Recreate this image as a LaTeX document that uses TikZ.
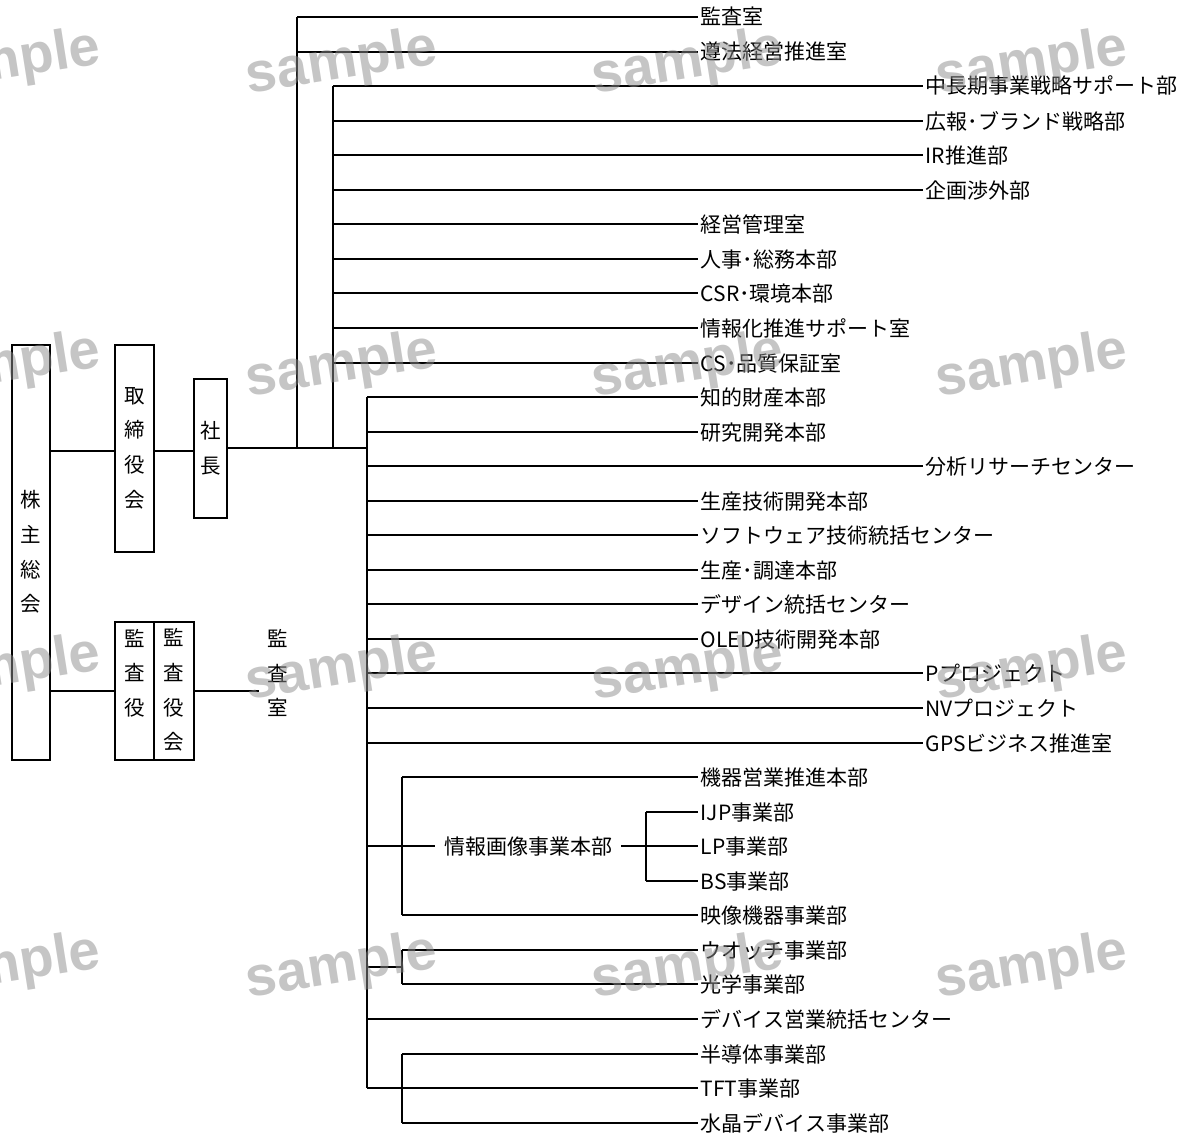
\documentclass[tikz,border=0pt]{standalone}
\usepackage{fontspec}
\usetikzlibrary{calc}
\newfontfamily\jp{Noto Sans CJK JP}
\newfontfamily\wm{Liberation Sans}
\begin{document}
\begin{tikzpicture}[x=1pt,y=-1pt,
  ln/.style={line width=2pt},
  lab/.style={font=\jp\fontsize{21}{25}\selectfont, inner sep=2.5pt, text height=18.5pt, text depth=2.5pt, anchor=west},
  bx/.style={draw, line width=2pt, inner sep=0pt},
  vt/.style={font=\jp\fontsize{20.5}{34.6}\selectfont, align=center, inner sep=0pt},
  wmk/.style={font=\wm\bfseries\fontsize{56}{60}\selectfont, text=black!45, text opacity=0.5, rotate=9, inner sep=0pt}]
\useasboundingbox (0,0) rectangle (1192,1140);
\clip (0,0) rectangle (1192,1140);

% left boxes
\node[bx, minimum width=38pt, minimum height=415pt] (kabu) at (31,552.5) {};
\node[vt] (kabut) at (31,552) {株\\主\\総\\会};
\node[bx, minimum width=39pt, minimum height=207pt] (tori) at (134.5,448.5) {};
\node[vt] (torit) at (134.5,448) {取\\締\\役\\会};
\node[bx, minimum width=33pt, minimum height=139pt] (shacho) at (210.5,448.5) {};
\node[vt] (shachot) at (210.5,448) {社\\長};
\node[bx, minimum width=39pt, minimum height=138pt] (ksy) at (134.5,691) {};
\node[vt] (ksyt) at (134.5,673) {監\\査\\役};
\node[bx, minimum width=40pt, minimum height=138pt] (ksyk) at (174,691) {};
\node[vt] (ksykt) at (174,690) {監\\査\\役\\会};
\node[vt] (kss) at (278,673) {監\\査\\室};
\coordinate (kssend) at (259,691);
\coordinate (j0) at (367,448);

\draw[ln] (kabu.east |- 0,451) -- (tori.west |- 0,451);
\draw[ln] (tori.east |- 0,451) -- (shacho.west |- 0,451);
\draw[ln] (shacho.east |- j0) -- (j0);
\draw[ln] (kabu.east |- 0,691) -- (ksy.west |- 0,691);
\draw[ln] (ksyk.east |- 0,691) -- (kssend);

% labels and branches
\foreach \k/\t/\xb/\xt in {
  0/監査室/297/698, 1/遵法経営推進室/297/698,
  2/中長期事業戦略サポート部/333/923, 3/広報･ブランド戦略部/333/923,
  4/IR推進部/333/923, 5/企画渉外部/333/923,
  6/経営管理室/333/698, 7/人事･総務本部/333/698, 8/CSR･環境本部/333/698,
  9/情報化推進サポート室/333/698, 10/CS･品質保証室/333/698,
  11/知的財産本部/367/698, 12/研究開発本部/367/698,
  13/分析リサーチセンター/367/923, 14/生産技術開発本部/367/698,
  15/ソフトウェア技術統括センター/367/698, 16/生産･調達本部/367/698,
  17/デザイン統括センター/367/698, 18/OLED技術開発本部/367/698,
  19/Pプロジェクト/367/923, 20/NVプロジェクト/367/923,
  21/GPSビジネス推進室/367/923,
  22/機器営業推進本部/402/698, 23/IJP事業部/646/698, 24/LP事業部/646/698,
  25/BS事業部/646/698, 26/映像機器事業部/402/698,
  27/ウオッチ事業部/402/698, 28/光学事業部/402/698,
  29/デバイス営業統括センター/367/698,
  30/半導体事業部/402/698, 31/TFT事業部/367/698, 32/水晶デバイス事業部/402/698} {
  \node[lab] (n\k) at (\xt,{round(17+34.55*\k)}) {\t};
  \draw[ln] (\xb,0 |- n\k.west) -- (n\k.west);
}

% verticals
\draw[ln] (297,0 |- n0.west) -- (297,0 |- j0);
\draw[ln] (333,0 |- n2.west) -- (333,0 |- j0);
\draw[ln] (367,0 |- n11.west) -- (367,0 |- n31.west);
\draw[ln] (402,0 |- n22.west) -- (402,0 |- n26.west);
\draw[ln] (402,0 |- n27.west) -- (402,0 |- n28.west);
\draw[ln] (402,0 |- n30.west) -- (402,0 |- n32.west);
\draw[ln] (646,0 |- n23.west) -- (646,0 |- n25.west);

% 情報画像事業本部
\node[lab, anchor=center, inner sep=9pt] (jyoho) at (528,0 |- n24.west) {情報画像事業本部};
\draw[ln] (367,0 |- jyoho.west) -- (jyoho.west);
\draw[ln] (jyoho.east) -- (n24.west);
\coordinate (wj) at (402,967);
\draw[ln] (367,0 |- wj) -- (wj);

% watermarks
\foreach \wx in {5,342,688,1032} {
  \foreach \wy in {64,367,670,968} {
    \node[wmk] (w\wx-\wy) at (\wx,\wy) {sample};
  }
}
\end{tikzpicture}
\end{document}
